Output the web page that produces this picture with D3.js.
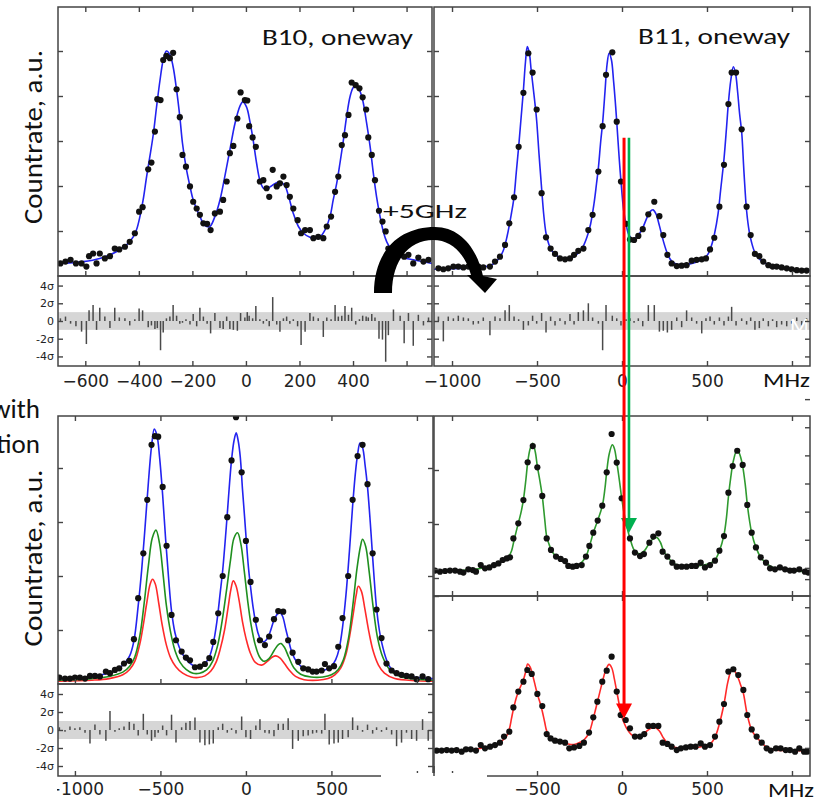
<!DOCTYPE html>
<html>
<head>
<meta charset="utf-8">
<script src="https://cdn.jsdelivr.net/npm/d3@7"></script>
<style>
  body { margin: 0; background: #fff; }
  svg { display: block; }
</style>
</head>
<body>
<div id="chart"></div>
<script>
// ---- data ----
// [MHz, countrate (a.u.), residual (sigma)]
const b10Points = [
  [-693,0.28,0.3],[-674,0.32,0.5],[-655,0.36,-0.3],[-635,0.28,-0.6],[-614,0.28,-1.2],[-596,0.21,-2.6],[-586,0.44,1.2],[-571,0.50,1.8],[-558,0.28,-1.0],[-546,0.50,1.5],
  [-527,0.39,0.5],[-508,0.44,-0.8],[-490,0.61,1.5],[-473,0.59,0.4],[-452,0.65,0.3],[-434,0.76,-0.5],[-415,0.95,0.2],[-399,1.43,1.4],[-386,1.53,1.2],[-365,2.37,-0.7],
  [-353,2.52,-0.5],[-340,3.21,-0.9],[-331,3.93,-0.8],[-319,3.91,-3.3],[-309,4.80,-1.3],[-297,4.89,0.3],[-284,4.84,0.5],[-272,4.96,1.8],[-259,4.15,0.6],[-247,3.53,-0.3],
  [-237,2.69,-0.2],[-224,2.43,0.2],[-209,1.99,-0.4],[-197,1.65,0.8],[-184,1.50,-0.6],[-172,1.36,1.5],[-159,1.17,0.5],[-145,1.16,-0.3],[-132,1.02,-1.4],[-116,1.39,0.9],
  [-97,1.43,-0.8],[-85,1.69,-0.9],[-72,2.10,0.5],[-60,2.73,-0.9],[-47,2.89,-1.0],[-32,3.50,-1.1],[-20,4.08,0.9],[-4,3.91,0.4],[5,3.90,1.0],[12,3.33,0.6],
  [25,3.08,0.3],[37,2.87,1.7],[52,2.10,0.2],[65,2.13,-0.3],[77,1.95,0.2],[87,1.76,-0.6],[100,2.36,2.7],[115,1.99,-0.4],[127,2.06,-1.2],[140,2.21,0.3],
  [152,2.02,0.5],[164,1.76,-0.3],[177,1.50,0.2],[193,1.24,-0.6],[206,0.95,-2.7],[221,1.02,-1.2],[239,1.02,0.9],[252,0.84,0.5],[270,0.87,0.3],[289,0.84,-1.8],
  [302,1.10,0.4],[318,1.32,0.2],[333,1.87,1.8],[345,2.21,0.5],[358,2.91,0.6],[370,3.13,1.7],[383,3.58,0.7],[395,4.30,1.5],[410,4.24,-0.4],[424,4.17,0.2],
  [436,3.97,0.6],[449,3.70,0.5],[457,3.08,0.4],[470,2.69,0.8],[482,2.13,0.4],[497,1.45,-2.0],[510,1.21,-2.1],[522,0.99,-4.6],[532,0.61,-1.6],[551,0.54,1.3],
  [576,0.50,0.6],[591,0.43,-2.5],[607,0.47,0.9],[625,0.28,-2.8],[644,0.41,0.7],[663,0.32,-0.5],[682,0.36,0.4]
];
const b10Fit = [
  [-702,0.28],[-608,0.32],[-546,0.39],[-484,0.54],[-446,0.69],[-421,0.87],[-409,1.02],[-396,1.32],[-384,1.69],[-371,2.21],
  [-359,2.65],[-346,3.15],[-334,3.75],[-321,4.35],[-309,4.8],[-297,5.0],[-284,4.92],[-272,4.65],[-259,4.13],[-247,3.54],
  [-237,2.95],[-224,2.43],[-209,1.99],[-197,1.69],[-172,1.32],[-153,1.12],[-135,1.1],[-116,1.32],[-97,1.69],[-79,2.21],
  [-60,2.8],[-41,3.39],[-22,3.78],[-12,3.87],[2,3.76],[15,3.43],[27,3.02],[40,2.5],[52,2.13],[65,1.95],
  [77,1.93],[90,1.98],[108,2.05],[127,2.1],[146,2.0],[158,1.8],[177,1.39],[196,1.1],[215,0.95],[239,0.86],
  [258,0.84],[277,0.87],[295,1.02],[314,1.32],[326,1.69],[339,2.06],[351,2.5],[364,3.02],[376,3.54],[389,3.99],
  [401,4.19],[411,4.22],[424,4.13],[436,3.91],[451,3.39],[464,2.87],[476,2.28],[488,1.76],[501,1.32],[513,0.99],
  [526,0.76],[544,0.58],[576,0.43],[625,0.36],[696,0.28]
];

const b11Points = [
  [-1080,0.17,0.5],[-1051,0.15,-2.3],[-1022,0.17,0.5],[-992,0.21,0.3],[-963,0.21,0.6],[-933,0.19,0.4],[-904,0.21,0.3],[-875,0.22,-0.4],[-845,0.21,-0.3],[-816,0.19,0.4],
  [-777,0.21,-1.6],[-747,0.32,0.5],[-718,0.43,0.3],[-688,0.69,1.2],[-663,1.17,1.8],[-635,1.75,0.5],[-608,2.87,0.2],[-580,4.07,-1.0],[-551,4.95,-0.5],[-526,4.52,0.6],[-502,3.70,-0.3],
  [-473,1.84,0.9],[-447,0.86,-1.3],[-420,0.61,0.5],[-394,0.49,-0.5],[-365,0.39,0.3],[-335,0.37,-0.4],[-306,0.39,0.8],[-282,0.47,-0.4],[-257,0.56,1.0],[-227,0.61,1.2],
  [-198,1.02,2.0],[-173,1.36,0.4],[-139,2.32,-0.3],[-114,3.33,-3.3],[-94,4.47,1.8],[-57,4.97,0.6],[-31,3.43,0.3],[-6,2.10,-0.5],
  [24,1.16,0.2],[47,0.81,0.3],[71,0.80,-0.2],[96,0.89,0.3],[122,1.04,-0.6],[155,1.37,1.8],[190,1.65,1.8],[220,1.33,-1.2],[243,0.91,-1.1],[267,0.47,-1.3],[292,0.28,-1.0],
  [322,0.22,0.4],[351,0.23,-0.7],[380,0.24,1.2],[410,0.34,0.4],[439,0.36,-0.3],[469,0.37,-1.4],[494,0.39,0.3],[518,0.59,0.5],[543,0.85,-0.4],[573,1.54,0.4],
  [600,2.47,-0.5],[626,3.82,0.5],[645,4.52,1.6],[671,4.52,-0.5],[704,3.26,0.3],
  [733,1.54,-0.4],[757,0.91,0.4],[782,0.49,-1.0],[808,0.44,-0.8],[831,0.32,0.3],[861,0.24,-0.6],[886,0.21,0.2],[910,0.21,-0.7],[939,0.19,-0.4],[969,0.17,-0.6],
  [998,0.15,-0.3],[1028,0.13,0.4],[1057,0.12,-0.5],[1086,0.12,0.3]
];
const b11Fit = [
  [-1106,0.15],[-1000,0.16],[-900,0.18],[-800,0.21],[-760,0.26],[-730,0.36],[-700,0.55],[-675,0.9],[-650,1.4],[-635,1.76],
  [-622,2.3],[-608,2.87],[-594,3.5],[-580,4.13],[-568,4.75],[-557,5.1],[-545,4.95],[-535,4.6],[-526,4.3],[-514,3.9],
  [-502,3.45],[-488,2.7],[-473,1.95],[-460,1.35],[-447,0.95],[-430,0.7],[-410,0.55],[-380,0.44],[-350,0.38],[-320,0.37],
  [-290,0.41],[-260,0.5],[-230,0.65],[-205,0.88],[-185,1.15],[-165,1.6],[-150,2.05],[-139,2.4],[-125,3.0],[-114,3.4],
  [-100,4.1],[-88,4.7],[-76,4.95],[-62,4.8],[-50,4.35],[-40,3.9],[-31,3.43],[-18,2.7],[-6,2.1],[10,1.45],
  [24,1.15],[40,0.92],[60,0.83],[80,0.85],[100,0.93],[122,1.07],[145,1.28],[165,1.43],[183,1.47],[200,1.38],
  [220,1.12],[243,0.78],[267,0.5],[292,0.33],[322,0.26],[360,0.25],[400,0.27],[440,0.31],[480,0.38],[505,0.48],
  [525,0.66],[545,0.95],[565,1.38],[580,1.9],[600,2.6],[615,3.3],[626,3.85],[640,4.35],[655,4.65],[668,4.5],
  [680,4.1],[692,3.6],[704,3.2],[718,2.28],[733,1.45],[748,1.0],[762,0.75],[782,0.52],[808,0.38],[840,0.29],
  [880,0.23],[950,0.18],[1030,0.14],[1106,0.12]
];

// both isotopes together, fit with B10/B11 contributions
const sumPoints = [
  [-1091,0.12,0.3],[-1058,0.10,-0.2],[-1029,0.10,0.4],[-1000,0.12,0.2],[-971,0.12,0.3],[-941,0.10,-0.3],[-912,0.15,-1.5],[-883,0.15,0.6],[-854,0.14,-0.5],[-819,0.23,-1.2],
  [-795,0.20,2.1],[-766,0.26,-0.2],[-741,0.29,0.2],[-713,0.38,0.4],[-682,0.43,0.9],[-655,0.83,0.7],[-630,1.59,-0.6],[-600,2.42,1.8],[-577,3.41,-0.5],[-552,4.43,-1.2],
  [-532,4.59,-0.8],[-513,4.58,-0.3],[-487,3.65,0.5],[-464,2.56,-0.6],
  [-435,1.28,1.7],[-409,0.81,-1.4],[-376,0.60,0.3],[-351,0.49,0.8],[-327,0.44,1.0],[-298,0.31,1.4],[-269,0.32,-1.4],[-240,0.37,-1.7],[-214,0.48,-1.6],[-191,0.78,-1.5],
  [-162,1.31,0.3],[-136,2.00,0.7],[-109,3.09,-0.3],[-84,4.14,0.2],[-58,4.94,-0.4],[-25,3.92,1.5],[0,2.65,-0.8],[27,1.89,-1.0],[58,1.19,0.5],[82,0.81,1.2],
  [111,0.72,-0.3],[136,0.88,-0.4],[164,1.20,-0.7],[189,1.35,0.7],[218,1.34,0.7],[247,0.81,1.3],[273,0.58,-2.1],[306,0.41,-1.2],[335,0.29,-0.7],[364,0.27,-0.6],
  [390,0.23,-0.4],[413,0.23,-0.3],[443,0.25,-0.4],[462,0.37,1.8],[487,0.29,-1.6],
  [515,0.33,-1.5],[540,0.69,-1.4],[565,1.22,-1.0],[598,2.00,-0.8],[624,3.41,1.4],[653,4.22,0.5],[682,4.43,-0.2],[711,3.70,0.6],[741,2.42,-0.4],[764,1.38,0.3],
  [793,0.85,-0.2],[822,0.38,0.3],[852,0.25,-0.5],[881,0.20,-1.8],[910,0.17,-1.4],[939,0.15,-0.3],[969,0.14,-1.0],[998,0.09,-1.2],[1033,0.14,1.2],[1066,0.09,-1.2]
];
const sumFitTotal = [
  [-1099,0.1],[-1000,0.11],[-900,0.14],[-820,0.19],[-760,0.26],[-710,0.38],[-680,0.52],[-655,0.8],[-630,1.45],[-610,2.1],
  [-590,2.9],[-570,3.75],[-552,4.4],[-536,4.72],[-520,4.6],[-505,4.2],[-487,3.5],[-470,2.7],[-452,1.95],[-435,1.35],
  [-415,0.95],[-390,0.68],[-360,0.5],[-330,0.39],[-300,0.33],[-270,0.33],[-240,0.38],[-214,0.5],[-191,0.75],[-170,1.15],
  [-150,1.7],[-136,2.1],[-120,2.7],[-109,3.15],[-95,3.75],[-84,4.15],[-70,4.5],[-57,4.65],[-45,4.5],[-33,4.2],
  [-20,3.6],[-8,3.1],[0,2.75],[15,2.15],[27,1.8],[42,1.42],[58,1.12],[70,0.95],[85,0.83],[103,0.78],
  [120,0.82],[140,0.95],[164,1.18],[185,1.3],[200,1.32],[215,1.25],[232,1.03],[247,0.84],[265,0.62],[285,0.47],
  [310,0.36],[340,0.29],[380,0.25],[430,0.24],[470,0.27],[500,0.33],[525,0.45],[545,0.65],[565,1.05],[585,1.65],
  [605,2.45],[624,3.3],[640,3.9],[653,4.25],[667,4.46],[682,4.38],[697,4.05],[711,3.65],[727,3.0],[741,2.35],
  [764,1.4],[780,1.0],[793,0.78],[822,0.45],[850,0.28],[900,0.18],[1000,0.12],[1094,0.1]
];
const sumFitB11 = [
  [-1099,0.07],[-900,0.1],[-800,0.14],[-720,0.22],[-680,0.33],[-650,0.5],[-620,0.9],[-595,1.5],[-570,2.2],[-548,2.7],
  [-526,2.85],[-505,2.6],[-485,2.05],[-465,1.45],[-440,0.95],[-415,0.62],[-385,0.4],[-350,0.27],[-310,0.2],[-270,0.2],
  [-230,0.26],[-195,0.42],[-165,0.72],[-140,1.15],[-115,1.7],[-90,2.3],[-70,2.7],[-49,2.8],[-30,2.6],[-10,2.1],
  [10,1.55],[30,1.1],[55,0.72],[80,0.5],[105,0.42],[135,0.47],[165,0.62],[190,0.73],[205,0.75],[225,0.68],
  [250,0.5],[280,0.3],[320,0.18],[380,0.13],[450,0.13],[500,0.17],[540,0.27],[570,0.45],[600,0.85],[625,1.45],
  [650,2.15],[670,2.55],[682,2.68],[700,2.55],[720,2.1],[745,1.4],[770,0.85],[800,0.5],[840,0.27],[900,0.14],
  [1000,0.09],[1094,0.07]
];
const sumFitB10 = [
  [-1099,0.05],[-900,0.07],[-800,0.1],[-720,0.17],[-680,0.27],[-650,0.42],[-620,0.75],[-600,1.1],[-580,1.5],[-560,1.85],
  [-546,1.94],[-530,1.85],[-510,1.5],[-490,1.1],[-465,0.72],[-440,0.48],[-410,0.32],[-370,0.2],[-320,0.13],[-280,0.12],
  [-240,0.15],[-205,0.24],[-175,0.4],[-150,0.65],[-125,1.0],[-105,1.4],[-88,1.75],[-74,1.91],[-58,1.82],[-40,1.55],
  [-20,1.15],[0,0.85],[25,0.58],[55,0.4],[92,0.35],[125,0.42],[155,0.5],[175,0.52],[200,0.48],[225,0.38],
  [255,0.25],[290,0.14],[340,0.08],[420,0.07],[480,0.1],[520,0.17],[555,0.3],[585,0.55],[610,0.95],[630,1.35],
  [645,1.65],[657,1.81],[675,1.72],[695,1.4],[720,0.95],[745,0.6],[775,0.35],[810,0.2],[870,0.1],[1000,0.06],
  [1094,0.05]
];

// right column, same spectrum split (green and red part)
const greenPoints = [
  [-1100,1.41],[-1071,1.35],[-1041,1.39],[-1012,1.41],[-982,1.41],[-953,1.35],[-933,1.30],[-904,1.48],[-878,1.44],[-859,1.35],
  [-831,1.72],[-806,1.54],[-780,1.59],[-753,1.72],[-727,1.81],[-702,2.0],[-678,2.09],[-659,2.15],[-639,3.20],[-610,4.04],
  [-580,5.33],[-555,7.43],[-525,8.33],[-498,7.15],[-469,5.56],[-443,3.20],[-418,2.56],[-388,2.19],[-361,2.06],[-335,1.94],
  [-316,1.67],[-290,1.63],[-267,1.67],[-237,1.72],[-212,2.19],[-192,2.78],[-169,3.52],[-143,4.19],[-116,5.02],[-90,6.87],
  [-61,9.0],[-31,7.41],[-2,5.43],[47,3.20],[76,2.41],[106,2.22],[129,2.33],[161,2.96],[184,3.30],[214,3.48],
  [239,2.46],[267,2.19],[296,1.85],[322,1.63],[351,1.63],[380,1.63],[410,1.67],[435,1.67],[463,1.85],[488,1.59],
  [518,1.72],[547,1.96],[573,2.52],[600,3.33],[626,5.74],[651,7.22],[678,8.07],[710,7.28],[737,5.06],[763,3.52],
  [788,2.70],[816,2.15],[847,1.85],[871,1.54],[900,1.48],[929,1.59],[959,1.48],[988,1.41],[1012,1.41],[1043,1.48],
  [1076,1.35],[1096,1.30]
];
const greenFit = [
  [-1106,1.38],[-1000,1.4],[-900,1.45],[-800,1.6],[-740,1.8],[-700,2.0],[-670,2.15],[-650,2.5],[-635,3.1],[-610,4.05],
  [-595,4.6],[-580,5.35],[-565,6.5],[-555,7.4],[-540,8.2],[-525,8.48],[-510,8.0],[-498,7.2],[-483,6.4],[-469,5.55],
  [-455,4.3],[-443,3.3],[-430,2.9],[-418,2.6],[-395,2.25],[-360,2.0],[-320,1.78],[-280,1.7],[-245,1.8],[-212,2.2],
  [-192,2.75],[-169,3.5],[-143,4.2],[-116,5.0],[-100,6.0],[-90,6.9],[-75,7.9],[-57,8.4],[-45,8.2],[-31,7.45],
  [-15,6.4],[-2,5.45],[20,4.2],[47,3.2],[75,2.5],[105,2.35],[135,2.55],[165,3.0],[188,3.2],[205,3.25],
  [225,3.0],[245,2.5],[270,2.15],[300,1.85],[330,1.68],[380,1.63],[430,1.65],[480,1.72],[520,1.82],[547,2.0],
  [573,2.5],[600,3.4],[615,4.4],[626,5.5],[640,6.6],[655,7.5],[678,8.15],[695,7.8],[710,7.2],[725,6.2],
  [737,5.1],[750,4.2],[763,3.5],[788,2.7],[816,2.15],[850,1.8],[900,1.55],[1000,1.43],[1106,1.32]
];
const redPoints = [
  [-1090,1.41],[-1061,1.41],[-1031,1.44],[-1002,1.41],[-973,1.44],[-943,1.35],[-918,1.48],[-890,1.48],[-859,1.41],[-831,1.72],
  [-806,1.54],[-776,1.63],[-747,1.72],[-718,1.85],[-694,2.19],[-663,2.46],[-639,3.81],[-610,4.69],[-580,5.24],[-557,5.89],
  [-531,5.67],[-498,4.56],[-469,3.89],[-443,2.33],[-420,2.09],[-394,1.96],[-365,1.91],[-335,1.85],[-310,1.54],[-282,1.59],
  [-251,1.67],[-224,1.85],[-194,2.41],[-169,3.26],[-145,4.13],[-116,5.24],[-90,5.85],[-61,6.63],[-31,4.69],[-8,3.39],
  [22,3.11],[47,2.65],[76,2.19],[106,2.19],[131,2.33],[155,2.78],[184,2.78],[214,2.78],[239,1.85],[267,1.78],
  [292,1.63],[322,1.44],[347,1.54],[376,1.59],[404,1.63],[433,1.63],[463,1.81],[488,1.63],[518,1.72],[547,2.19],
  [573,3.02],[600,4.0],[626,5.8],[655,5.93],[684,5.61],[714,4.78],[737,3.39],[763,2.59],[792,2.19],[822,1.85],
  [851,1.54],[875,1.41],[906,1.54],[933,1.54],[963,1.44],[988,1.44],[1018,1.35],[1043,1.54],[1071,1.35],[1090,1.35]
];
const redFit = [
  [-1106,1.38],[-1000,1.41],[-900,1.45],[-800,1.6],[-740,1.75],[-700,2.0],[-680,2.2],[-663,2.6],[-650,3.2],[-639,3.7],
  [-620,4.4],[-600,4.9],[-580,5.35],[-565,5.85],[-555,6.22],[-540,6.05],[-531,5.8],[-515,5.2],[-498,4.55],[-480,4.0],
  [-469,3.6],[-455,3.0],[-443,2.5],[-420,2.1],[-394,1.95],[-365,1.88],[-335,1.82],[-300,1.75],[-270,1.78],[-240,1.9],
  [-224,2.0],[-194,2.4],[-169,3.2],[-145,4.1],[-116,5.2],[-95,5.9],[-76,6.2],[-60,6.0],[-45,5.4],[-31,4.7],
  [-15,3.9],[-8,3.5],[10,3.0],[30,2.6],[55,2.3],[85,2.15],[110,2.2],[140,2.45],[170,2.65],[195,2.7],
  [220,2.5],[245,2.1],[270,1.8],[300,1.62],[340,1.55],[400,1.55],[450,1.6],[490,1.68],[520,1.8],[547,2.15],
  [573,2.9],[600,4.0],[620,5.1],[635,5.7],[645,5.95],[662,5.85],[685,5.4],[700,5.0],[714,4.6],[737,3.4],
  [763,2.55],[792,2.15],[822,1.85],[851,1.6],[900,1.45],[1000,1.42],[1106,1.38]
];

// ticks
const ticksB10 = [-600, -400, -200, 0, 200, 400, 600];
const labelsB10 = [-600, -400, -200, 0, 200, 400];
const ticksWide = [-1000, -500, 0, 500, 1000];
const labelsWideTop = [-1000, -500, 0, 500];
const labelsWideBottom = [-1000, -500, 0, 500];
const labelsRightBottom = [-500, 0, 500];
const sigmaTicks = [4, 2, 0, -2, -4];
const sigmaLabels = ["4σ", "2σ", "0", "-2σ", "-4σ"];
const rateTicksTop = [1, 2, 3, 4, 5];
const rateTicksSum = [1, 2, 3, 4];
const rateTicksSplitLeft = [1, 4, 7];
const rateTicksRedLeft = [8, 9.2];
const rateTicksSplitRight = [1.25, 2.5, 3.75, 5, 6.25, 7.5, 8.75];

// marker lines (MHz) dropped from the B11 spectrum
const markers = [
  { freq: 41, color: "#00b050", width: 2.6, top: 3.07, panel: "green", tip: 3.5 },
  { freq: 12, color: "#ff0000", width: 3, top: 3.07, panel: "red", tip: 3.2 }
];

// ---- drawing ----
const W = 823, H = 801;
const svg = d3.select("#chart").append("svg").attr("width", W).attr("height", H);

const FRAME = "#444";
const TICKFONT = "'DejaVu Sans', sans-serif";
const TEXTFONT = "Carlito, Calibri, Lato, 'Open Sans', sans-serif";

let clipCount = 0;
function makePanel(x0, x1, y0, y1, xDomain, yDomain) {
  const x = d3.scaleLinear().domain(xDomain).range([x0, x1]);
  const y = d3.scaleLinear().domain(yDomain).range([y1, y0]);
  const id = "clip" + (clipCount++);
  svg.append("clipPath").attr("id", id)
    .append("rect").attr("x", x0).attr("y", y0).attr("width", x1 - x0).attr("height", y1 - y0);
  const g = svg.append("g").attr("clip-path", `url(#${id})`);
  return { x, y, g, x0, x1, y0, y1 };
}

function frame(p) {
  svg.append("rect")
    .attr("x", p.x0).attr("y", p.y0)
    .attr("width", p.x1 - p.x0).attr("height", p.y1 - p.y0)
    .attr("fill", "none").attr("stroke", FRAME).attr("stroke-width", 1.5);
}

function ticks(p, side, values) {
  let axis, pos;
  if (side === "left") { axis = d3.axisLeft(p.y); pos = `translate(${p.x0},0)`; }
  if (side === "right") { axis = d3.axisRight(p.y); pos = `translate(${p.x1},0)`; }
  if (side === "top") { axis = d3.axisTop(p.x); pos = `translate(0,${p.y0})`; }
  if (side === "bottom") { axis = d3.axisBottom(p.x); pos = `translate(0,${p.y1})`; }
  axis.tickValues(values).tickSize(-5).tickFormat("");
  const g = svg.append("g").attr("transform", pos).call(axis);
  g.select(".domain").remove();
  g.selectAll("line").attr("stroke", FRAME).attr("stroke-width", 1.4);
}

const minus = d => d < 0 ? "\u2212" + Math.abs(d) : String(d);

function xLabels(p, values, pad, clip) {
  const outer = svg.append("g");
  if (clip) outer.attr("clip-path", `url(#${clip})`);
  const g = outer.append("g")
    .attr("transform", `translate(0,${p.y1})`)
    .call(d3.axisBottom(p.x).tickValues(values).tickSize(0).tickPadding(pad).tickFormat(minus));
  g.select(".domain").remove();
  g.selectAll("text").attr("font-family", TICKFONT).attr("font-size", 17).attr("fill", "#222");
}

function sigmaAxis(p) {
  const g = svg.append("g")
    .attr("transform", `translate(${p.x0},0)`)
    .call(d3.axisLeft(p.y).tickValues(sigmaTicks).tickSize(0).tickPadding(4)
      .tickFormat((d, i) => sigmaLabels[i]));
  g.select(".domain").remove();
  g.selectAll("text").attr("font-family", TICKFONT).attr("font-size", 11).attr("fill", "#222");
}

const lineOf = p => d3.line().x(d => p.x(d[0])).y(d => p.y(d[1])).curve(d3.curveCatmullRom.alpha(0.5));

function curve(p, data, color) {
  p.g.append("path").datum(data)
    .attr("d", lineOf(p))
    .attr("fill", "none").attr("stroke", color).attr("stroke-width", 1.6);
}

function dots(p, data) {
  p.g.append("g").selectAll("circle").data(data).join("circle")
    .attr("cx", d => p.x(d[0])).attr("cy", d => p.y(d[1]))
    .attr("r", 3.1).attr("fill", "#111");
}

function residuals(p, data) {
  p.g.append("rect")
    .attr("x", p.x0).attr("width", p.x1 - p.x0)
    .attr("y", p.y(1)).attr("height", p.y(-1) - p.y(1))
    .attr("fill", "#d6d6d6");
  p.g.append("g").selectAll("line").data(data).join("line")
    .attr("x1", d => p.x(d[0])).attr("x2", d => p.x(d[0]))
    .attr("y1", p.y(0)).attr("y2", d => p.y(d[2]))
    .attr("stroke", "#4a4a4a").attr("stroke-width", 1.5);
}

// panel geometry
const topY = [0, 269 / 45];
const sigY = [-5.08, 5.08];
const wideX = [-1106, 1106];

const pA = makePanel(58, 432, 7, 276, [-702, 695], topY);
const rA = makePanel(58, 432, 276, 366, [-702, 695], sigY);
const pB = makePanel(434, 810, 7, 276, wideX, topY);
const rB = makePanel(434, 810, 276, 366, wideX, sigY);
const pC = makePanel(58, 433, 416, 684, [-1099, 1094], [0, 268 / 54]);
const rC = makePanel(58, 433, 684, 776, [-1099, 1094], [-5.11, 5.11]);
const pD = makePanel(434, 810, 416, 596, wideX, [0, 10]);
const pE = makePanel(434, 810, 596, 776, wideX, [0, 10]);
// right-hand tick scales of the split panels
const dRight = { ...pD, y: d3.scaleLinear().domain([0, 8]).range([596, 416]) };
const eRight = { ...pE, y: d3.scaleLinear().domain([0, 8]).range([776, 596]) };
const eLeft = { ...pE, y: d3.scaleLinear().domain([0, 8]).range([776, 596]) };

// B10
curve(pA, b10Fit, "#2323f0");
dots(pA, b10Points);
residuals(rA, b10Points);

// B11
curve(pB, b11Fit, "#2323f0");
dots(pB, b11Points);
residuals(rB, b11Points);
rB.g.append("text").attr("x", 790).attr("y", 334).text("MHz")
  .attr("font-family", TEXTFONT).attr("font-size", 22).attr("fill", "#fff");

// both isotopes
curve(pC, sumFitB10, "#ff2a2a");
curve(pC, sumFitB11, "#1f8f1f");
curve(pC, sumFitTotal, "#2323f0");
dots(pC, sumPoints);
residuals(rC, sumPoints);

// split
curve(pD, greenFit, "#2f9a2f");
dots(pD, greenPoints);
curve(pE, redFit, "#ff2a2a");
dots(pE, redPoints);

// frames and ticks
[pA, rA, pB, rB, pC, rC, pD, pE].forEach(frame);

ticks(pA, "left", rateTicksTop); ticks(pA, "right", rateTicksTop);
ticks(pA, "top", ticksB10); ticks(pA, "bottom", ticksB10);
ticks(rA, "left", sigmaTicks); ticks(rA, "right", sigmaTicks); ticks(rA, "bottom", ticksB10);

ticks(pB, "left", rateTicksTop); ticks(pB, "right", rateTicksTop);
ticks(pB, "top", ticksWide); ticks(pB, "bottom", ticksWide);
ticks(rB, "left", sigmaTicks); ticks(rB, "right", sigmaTicks); ticks(rB, "bottom", ticksWide);

ticks(pC, "left", rateTicksSum); ticks(pC, "right", rateTicksSum);
ticks(pC, "top", ticksWide); ticks(pC, "bottom", ticksWide);
ticks(rC, "left", sigmaTicks); ticks(rC, "right", sigmaTicks); ticks(rC, "bottom", ticksWide);

ticks(pD, "left", rateTicksSplitLeft); ticks(dRight, "right", rateTicksSplitRight);
ticks(pD, "top", ticksWide); ticks(pD, "bottom", ticksWide);
ticks(eLeft, "left", rateTicksRedLeft); ticks(eRight, "right", rateTicksSplitRight);
ticks(pE, "top", ticksWide); ticks(pE, "bottom", ticksWide);

// the bottom edge is hidden between the two lower panels
svg.append("rect").attr("x", 381).attr("y", 773).attr("width", 106).attr("height", 6).attr("fill", "#fff");
svg.append("line").attr("x1", 434).attr("x2", 434).attr("y1", 766).attr("y2", 776)
  .attr("stroke", FRAME).attr("stroke-width", 1.5);

// tick labels
xLabels(rA, labelsB10, 9);
xLabels(rB, labelsWideTop, 9);
svg.append("clipPath").attr("id", "labclip")
  .append("rect").attr("x", 57).attr("y", 770).attr("width", 380).attr("height", 31);
xLabels(rC, labelsWideBottom, 7, "labclip");
xLabels(pE, labelsRightBottom, 7);
sigmaAxis(rA);
sigmaAxis(rC);

// texts
const text = (x, y, s, size, len, anchor) => {
  const t = svg.append("text").attr("x", x).attr("y", y).text(s)
    .attr("font-family", TEXTFONT).attr("font-size", size).attr("fill", "#111")
    .attr("text-anchor", anchor || "start");
  if (len) t.attr("textLength", len).attr("lengthAdjust", "spacingAndGlyphs");
  return t;
};
text(262, 45, "B10, oneway", 22, 151);
text(638, 44, "B11, oneway", 22, 152);
text(763, 387, "MHz", 21, 47);
text(768, 797, "MHz", 20, 46);
text(383, 218, "+5GHz", 21, 84);
text(40, 418, "with", 27, null, "end");
text(40, 453, "tion", 27, null, "end");
svg.append("text").attr("transform", "translate(42,137) rotate(-90)")
  .attr("text-anchor", "middle").text("Countrate, a.u.")
  .attr("font-family", TEXTFONT).attr("font-size", 26).attr("fill", "#111")
  .attr("textLength", 174).attr("lengthAdjust", "spacingAndGlyphs");
svg.append("text").attr("transform", "translate(42,558) rotate(-90)")
  .attr("text-anchor", "middle").text("Countrate, a.u.")
  .attr("font-family", TEXTFONT).attr("font-size", 26).attr("fill", "#111")
  .attr("textLength", 177).attr("lengthAdjust", "spacingAndGlyphs");

// curved "+5GHz" arrow
svg.append("path")
  .attr("d", "M374,293 C374,250 400,227 435,227 C460,227 477,248 483,276 L497,279 L485,293 L467,275 L471,275 C465,254 452,240 433,240 C411,240 392,258 392,293 Z")
  .attr("fill", "#000");

// marker arrows
const panelOf = { green: pD, red: pE };
markers.forEach(m => {
  const x = pB.x(m.freq);
  const y1 = pB.y(m.top);
  const tip = panelOf[m.panel].y(m.tip);
  svg.append("line").attr("x1", x).attr("x2", x).attr("y1", y1).attr("y2", tip - 12)
    .attr("stroke", m.color).attr("stroke-width", m.width);
  svg.append("path")
    .attr("d", `M${x - 8},${tip - 15} L${x + 8},${tip - 15} L${x},${tip} Z`)
    .attr("fill", m.color);
});
</script>
</body>
</html>
